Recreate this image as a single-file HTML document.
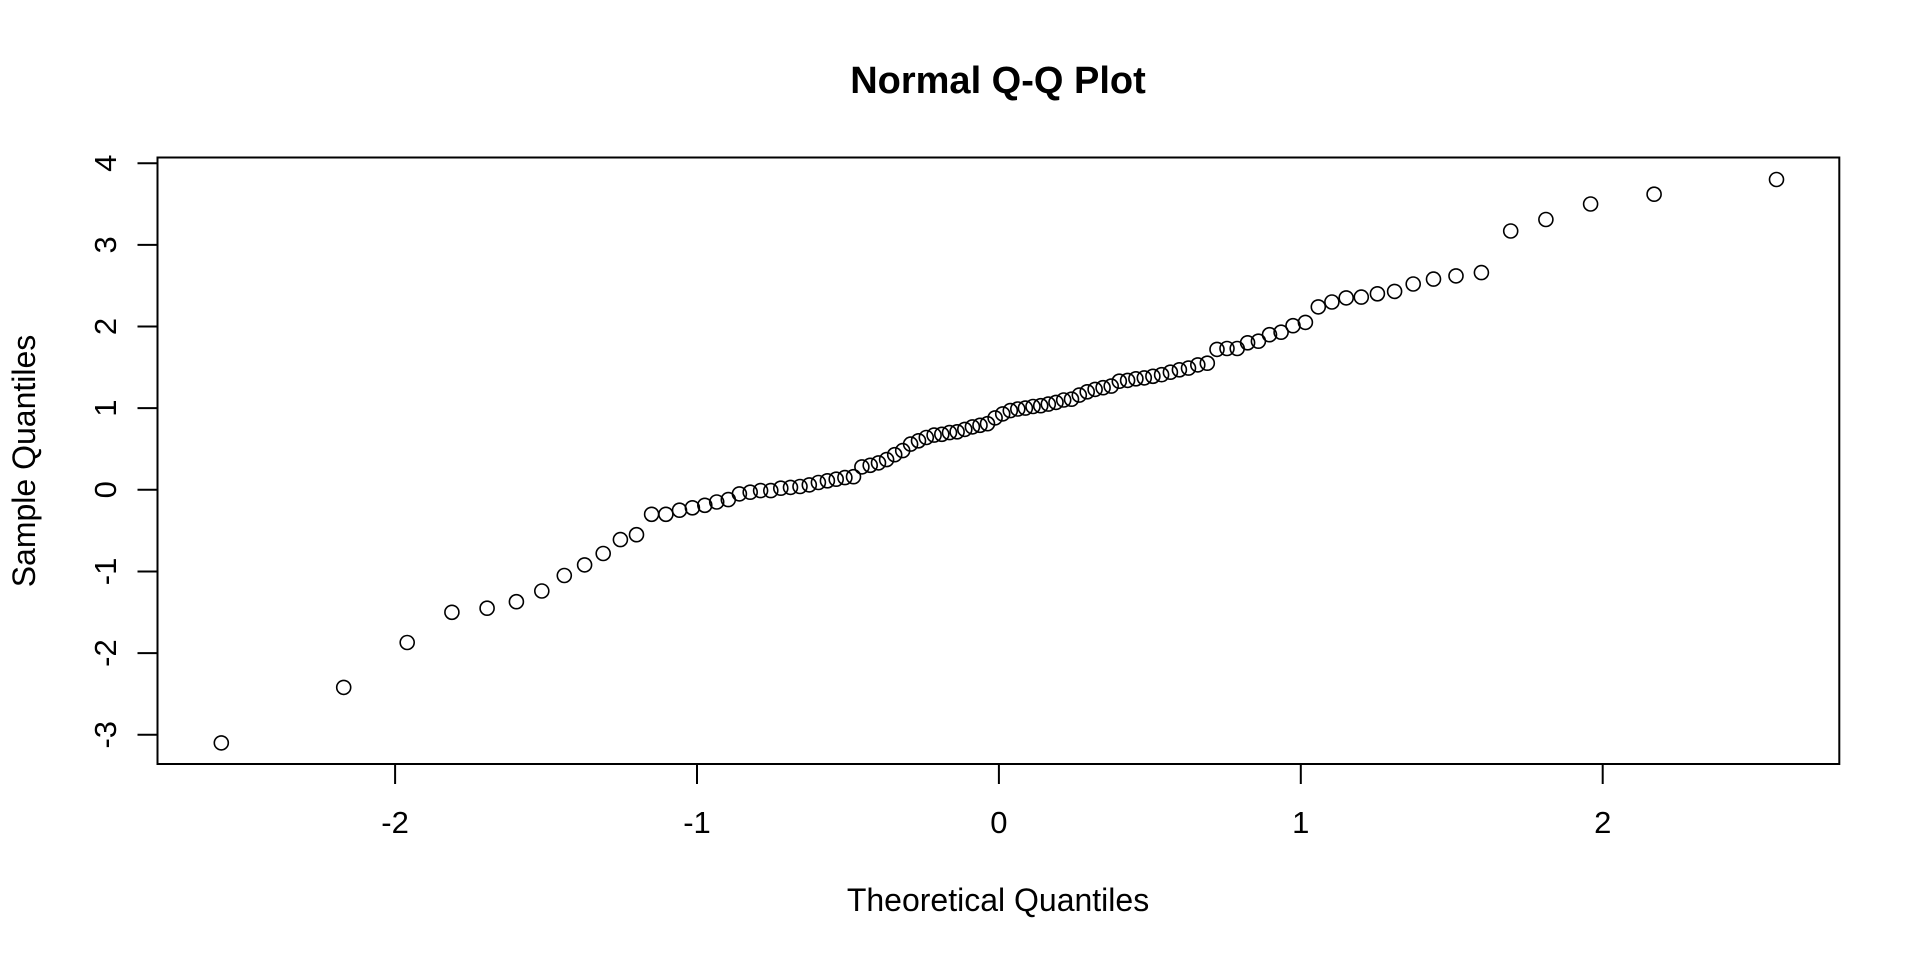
<!DOCTYPE html>
<html><head><meta charset="utf-8"><style>
html,body{margin:0;padding:0;background:#fff;}
svg{display:block;font-family:"Liberation Sans",Arial,sans-serif;}
</style></head><body>
<svg id="s" width="1920" height="960" xmlns="http://www.w3.org/2000/svg">
<rect x="0" y="0" width="1920" height="960" fill="#fff"/>
<text x="998" y="93" font-size="38" font-weight="bold" text-anchor="middle">Normal Q-Q Plot</text>
<rect x="157.5" y="157.5" width="1681.8" height="606.5" fill="none" stroke="#000" stroke-width="2"/>
<g id="ticks" stroke="#000" stroke-width="2"></g>
<g id="labs" font-size="31" text-anchor="middle"></g>
<text x="998" y="911" font-size="32" text-anchor="middle">Theoretical Quantiles</text>
<text transform="translate(35,461) rotate(-90)" font-size="32" text-anchor="middle">Sample Quantiles</text>
<g id="pts" fill="none" stroke="#000" stroke-width="1.6"></g>
</svg>
<script>
var NS="http://www.w3.org/2000/svg";
function el(t,a,p,txt){var e=document.createElementNS(NS,t);for(var k in a)e.setAttribute(k,a[k]);if(txt)e.textContent=txt;document.getElementById(p).appendChild(e);}
function X(v){return 998.9+v*301.9;}
function Y(v){return 489.8-v*81.65;}
for(var i=-2;i<=2;i++){el("line",{x1:X(i),x2:X(i),y1:764,y2:784},"ticks");el("text",{x:X(i),y:833},"labs",String(i));}
for(var j=-3;j<=4;j++){el("line",{x1:137.5,x2:157.5,y1:Y(j),y2:Y(j)},"ticks");el("text",{transform:"translate(116,"+Y(j)+") rotate(-90)"},"labs",String(j));}
function qnorm(p){var a=[-39.69683028665376,220.9460984245205,-275.9285104469687,138.357751867269,-30.66479806614716,2.506628277459239],b=[-54.4760987982241,161.5858368580409,-155.6989798598866,66.80131188771972,-13.28068155288572],c=[-0.007784894002430293,-0.3223964580411365,-2.400758277161838,-2.549732539343734,4.374664141464968,2.938163982698783],d=[0.007784695709041462,0.3224671290700398,2.445134137142996,3.754408661907416],pl=0.02425,q,r;
if(p<pl){q=Math.sqrt(-2*Math.log(p));return(((((c[0]*q+c[1])*q+c[2])*q+c[3])*q+c[4])*q+c[5])/((((d[0]*q+d[1])*q+d[2])*q+d[3])*q+1);}
if(p>1-pl){q=Math.sqrt(-2*Math.log(1-p));return-(((((c[0]*q+c[1])*q+c[2])*q+c[3])*q+c[4])*q+c[5])/((((d[0]*q+d[1])*q+d[2])*q+d[3])*q+1);}
q=p-0.5;r=q*q;return(((((a[0]*r+a[1])*r+a[2])*r+a[3])*r+a[4])*r+a[5])*q/(((((b[0]*r+b[1])*r+b[2])*r+b[3])*r+b[4])*r+1);}
var ys=[-3.1,-2.42,-1.87,-1.5,-1.45,-1.37,-1.24,-1.05,-0.92,-0.78,-0.61,-0.55,-0.3,-0.3,-0.25,-0.22,-0.19,-0.15,-0.12,-0.05,-0.03,-0.01,-0.01,0.02,0.03,0.04,0.06,0.09,0.11,0.13,0.15,0.16,0.28,0.3,0.33,0.37,0.43,0.48,0.56,0.6,0.64,0.67,0.68,0.7,0.71,0.74,0.77,0.79,0.81,0.88,0.93,0.97,0.99,1.0,1.02,1.03,1.05,1.07,1.1,1.11,1.16,1.2,1.23,1.25,1.27,1.33,1.34,1.36,1.37,1.39,1.41,1.44,1.47,1.49,1.53,1.55,1.72,1.73,1.73,1.8,1.82,1.9,1.93,2.01,2.05,2.24,2.3,2.35,2.36,2.4,2.43,2.52,2.58,2.62,2.66,3.17,3.31,3.5,3.62,3.8];
var n=ys.length;
for(var k=0;k<n;k++){var x=qnorm((k+0.5)/n);el("circle",{cx:X(x).toFixed(1),cy:Y(ys[k]).toFixed(1),r:7},"pts");}
</script>
</body></html>
